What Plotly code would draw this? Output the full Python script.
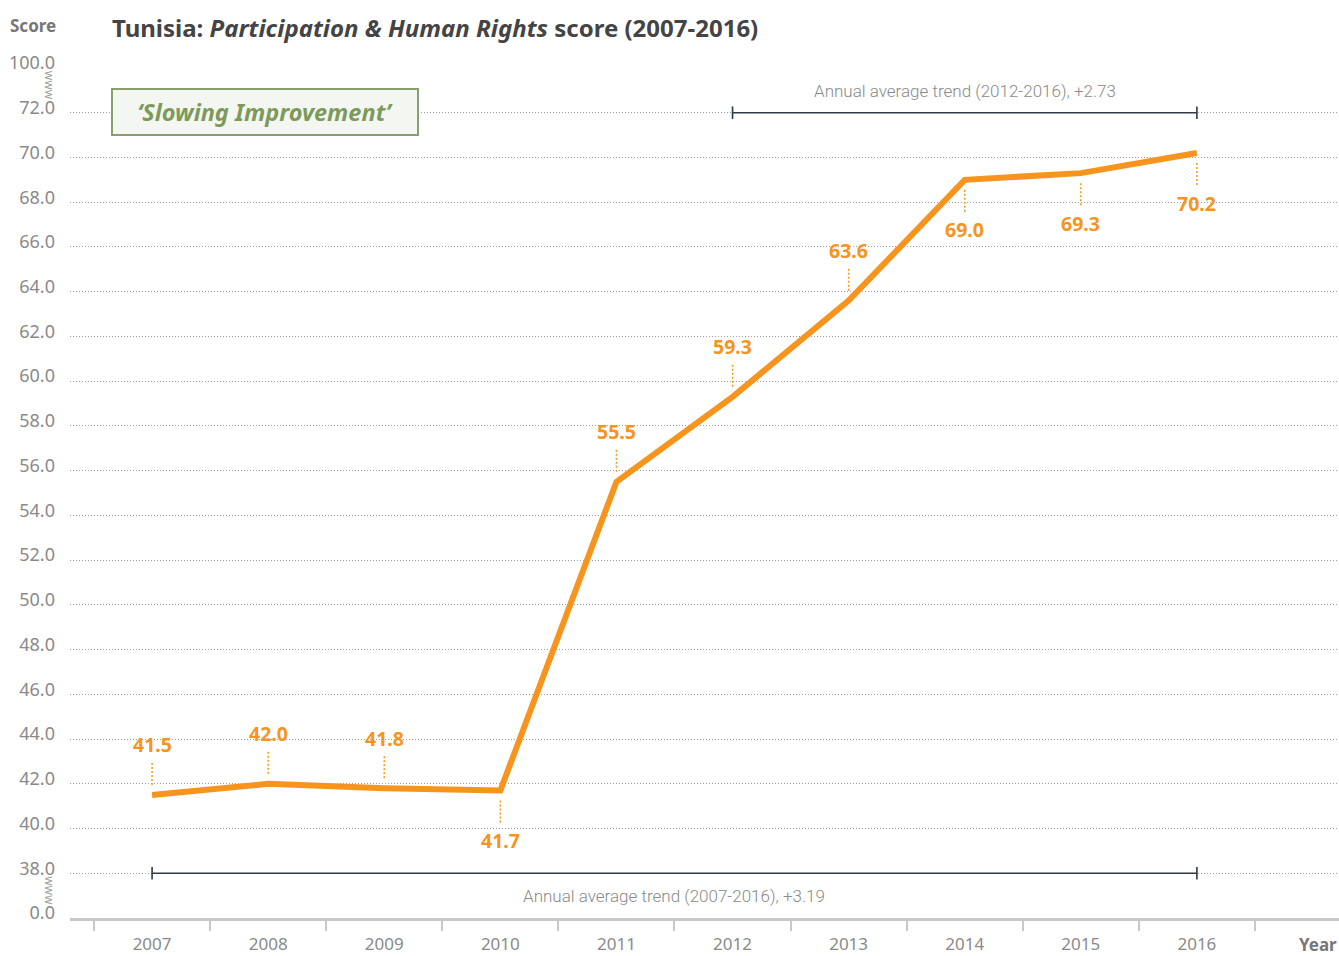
import plotly.graph_objects as go

years = [2007, 2008, 2009, 2010, 2011, 2012, 2013, 2014, 2015, 2016]
scores = [41.5, 42.0, 41.8, 41.7, 55.5, 59.3, 63.6, 69.0, 69.3, 70.2]
label_side = ["up", "up", "up", "down", "up", "up", "up", "down", "down", "down"]

# broken y scale: 0.0 and 100.0 sit one step outside the 38-72 window
y_tickvals = [36, 38, 40, 42, 44, 46, 48, 50, 52, 54, 56, 58, 60, 62, 64, 66, 68, 70, 72, 74]
y_ticktext = ["0.0", "38.0", "40.0", "42.0", "44.0", "46.0", "48.0", "50.0", "52.0", "54.0",
              "56.0", "58.0", "60.0", "62.0", "64.0", "66.0", "68.0", "70.0", "72.0", "100.0"]

trend_long = {"years": [2007, 2016], "level": 38, "text": "Annual average trend (2007-2016), +3.19"}
trend_short = {"years": [2012, 2016], "level": 72, "text": "Annual average trend (2012-2016), +2.73"}

ORANGE = "#F7941D"
GREY = "#8a8a8a"
DARK = "#2f3b44"
FONT = "Noto Sans"

fig = go.Figure()

fig.add_trace(go.Scatter(
    x=years, y=scores, mode="lines",
    line=dict(color=ORANGE, width=6), hoverinfo="x+y", showlegend=False,
))

for tr in (trend_long, trend_short):
    fig.add_trace(go.Scatter(
        x=tr["years"], y=[tr["level"]] * 2, mode="lines+markers",
        line=dict(color=DARK, width=1.6),
        marker=dict(symbol="line-ns-open", size=9, line=dict(color=DARK, width=1.6)),
        showlegend=False, hoverinfo="skip",
    ))

annotations = []
shapes = []
for yr, val, side in zip(years, scores, label_side):
    sign = 1 if side == "up" else -1
    annotations.append(dict(
        x=yr, y=val, xref="x", yref="y", text=f"{val:.1f}", showarrow=False,
        yshift=sign * 50, font=dict(family=FONT, size=19.5, color=ORANGE, weight="bold"),
    ))
    shapes.append(dict(
        type="line", xref="x", yref="y", ysizemode="pixel", yanchor=val,
        x0=yr, x1=yr, y0=sign * 10, y1=sign * 34,
        line=dict(color=ORANGE, width=1.5, dash="2px,2px"),
    ))

annotations.append(dict(
    x=sum(trend_long["years"]) / 2, y=trend_long["level"], xref="x", yref="y",
    text=trend_long["text"], showarrow=False, yshift=-23,
    font=dict(family="Roboto", size=17, color=GREY, weight=300),
))
annotations.append(dict(
    x=sum(trend_short["years"]) / 2, y=trend_short["level"], xref="x", yref="y",
    text=trend_short["text"], showarrow=False, yshift=22,
    font=dict(family="Roboto", size=17, color=GREY, weight=300),
))

# axis break squiggles
for lo, hi in ((y_tickvals[0], y_tickvals[1]), (y_tickvals[-2], y_tickvals[-1])):
    annotations.append(dict(
        x=0, xref="paper", xshift=-31, y=(lo + hi) / 2, yref="y", yshift=5,
        text="www", textangle=90, showarrow=False,
        font=dict(family=FONT, size=12, color="#9a9a9a"),
    ))

annotations += [
    dict(x=0.0315, y=1, xref="paper", yref="paper", xanchor="left", yanchor="middle",
         yshift=41, showarrow=False,
         text="Tunisia: <i>Participation &amp; Human Rights</i> score (2007-2016)",
         font=dict(family=FONT, size=24, color="#444444", weight="bold")),
    dict(x=0, y=1, xref="paper", yref="paper", xanchor="right", yanchor="middle",
         xshift=-12, yshift=43, showarrow=False, text="Score",
         font=dict(family=FONT, size=17, color="#777777", weight="bold")),
    dict(x=1, y=0, xref="paper", yref="paper", xanchor="right", yanchor="middle",
         yshift=-26, showarrow=False, text="Year",
         font=dict(family=FONT, size=17, color="#777777", weight="bold")),
    dict(x=0.1537, y=1, xref="paper", yref="paper", xanchor="center", yanchor="middle",
         yshift=-44, showarrow=False, text="<i>‘Slowing Improvement’</i>",
         width=292, borderpad=6, bordercolor="#8a9f6e", borderwidth=2, bgcolor="#f4f6f1",
         font=dict(family=FONT, size=23.5, color="#7d9a5a", weight="bold")),
]

fig.update_layout(
    width=1339, height=956,
    margin=dict(l=70, r=0, t=68, b=38),
    plot_bgcolor="white", paper_bgcolor="white",
    font=dict(family=FONT, color=GREY),
    annotations=annotations, shapes=shapes,
    xaxis=dict(
        range=[2006.293, 2017.224], tickvals=years, ticks="",
        tickfont=dict(family=FONT, size=17, color=GREY),
        showgrid=False, zeroline=False, automargin=False,
        showline=True, linecolor="#c8c8c8", linewidth=3,
        ticklabelstandoff=9,
        minor=dict(tickmode="linear", tick0=2006.5, dtick=1, ticks="outside",
                   ticklen=10, tickwidth=2, tickcolor="#c8c8c8", showgrid=False),
    ),
    yaxis=dict(
        range=[36, 74], tickvals=y_tickvals, ticktext=y_ticktext,
        tickfont=dict(family=FONT, size=18, color=GREY),
        showgrid=True, gridcolor="#a0a0a0", gridwidth=1, griddash="1px,2px",
        zeroline=False, showline=False, ticks="", automargin=False,
        ticklabelstandoff=14, ticklabelshift=-5,
    ),
)

fig.write_html("out.html", config={"displayModeBar": False},
               post_script="document.body.style.margin='0px';")
